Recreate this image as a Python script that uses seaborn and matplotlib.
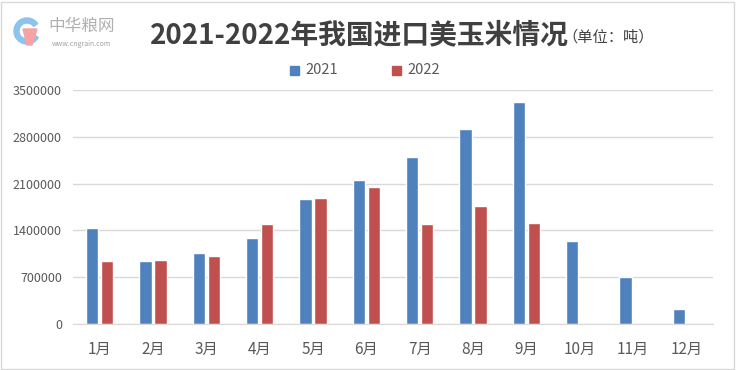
import numpy as np
import pandas as pd
import matplotlib
matplotlib.use("Agg")
import matplotlib.pyplot as plt
import seaborn as sns
from matplotlib.patches import Rectangle, Wedge, Polygon

# Data (tonnes)
months = ["1月", "2月", "3月", "4月", "5月", "6月", "7月", "8月", "9月", "10月", "11月", "12月"]
imports_2021 = [1441000, 947000, 1067000, 1291000, 1875000, 2159000, 2503000, 2922000, 3326000, 1247000, 708000, 229000]
imports_2022 = [947000, 962000, 1022000, 1501000, 1890000, 2054000, 1501000, 1770000, 1516000, np.nan, np.nan, np.nan]
years = ["2021", "2022"]
colors = ["#4F81BD", "#C0504D"]
yticks = [0, 700000, 1400000, 2100000, 2800000, 3500000]

df = pd.DataFrame({
    "month": months * 2,
    "value": imports_2021 + imports_2022,
    "year": [years[0]] * 12 + [years[1]] * 12,
})

sns.set_style("white")
plt.rcParams["font.family"] = ["Noto Sans CJK SC", "DejaVu Sans"]

W, H = 736, 370
fig = plt.figure(figsize=(W / 100, H / 100), dpi=100)
ax = fig.add_axes([73 / W, 1 - 324 / H, 640 / W, 234 / H])

sns.barplot(data=df, x="month", y="value", hue="year", palette=colors,
            width=0.56, gap=0.18, ax=ax, legend=False, saturation=1)

ax.set_ylim(0, 3500000)
ax.set_yticks(yticks)
ax.set_yticklabels([str(v) for v in yticks], fontsize=9, color="#595959")
ax.set_xlim(-0.5, 11.5)
ax.tick_params(axis="x", labelsize=11, labelcolor="#595959", length=0, pad=12)
ax.tick_params(axis="y", length=0, pad=8)
ax.set_xlabel("")
ax.set_ylabel("")
ax.grid(axis="y", color="#D9D9D9", linewidth=1)
ax.set_axisbelow(True)
for s in ["top", "left", "right"]:
    ax.spines[s].set_visible(False)
ax.spines["bottom"].set_color("#D9D9D9")

# Title
fig.text(150 / W, 1 - 35 / H, "2021-2022年我国进口美玉米情况", fontsize=20,
         fontweight="bold", color="#404040", ha="left", va="center")
fig.text(562 / W, 1 - 37 / H, "（单位：吨）", fontsize=11, color="#404040",
         ha="left", va="center")

# Logo: blue ring with a pink stroke (drawn in a small pixel-scaled axes)
logo = fig.add_axes([10 / W, 1 - 48 / H, 34 / W, 34 / H])
logo.set_xlim(0, 34)
logo.set_ylim(0, 34)
logo.axis("off")
logo.add_patch(Wedge((17, 17), 13, 35, 330, width=5, color="#8CC4EE"))
logo.add_patch(Polygon([(13, 19), (27, 19), (22, 3), (17, 3)], closed=True, color="#F5A3A3"))
fig.text(48 / W, 1 - 26 / H, "中华粮网", fontsize=12, color="#B0B0B0",
         ha="left", va="center")
fig.text(52 / W, 1 - 44 / H, "www.cngrain.com", fontsize=5, color="#A0A0A0",
         ha="left", va="center")

# Legend
for i, (yr, c) in enumerate(zip(years, colors)):
    x0 = 290 + i * 102
    fig.patches.append(Rectangle((x0 / W, 1 - 75 / H), 9 / W, 9 / H,
                                 transform=fig.transFigure, color=c))
    fig.text((x0 + 15) / W, 1 - 70 / H, yr, fontsize=10.5, color="#595959",
             ha="left", va="center")

# Outer border
fig.patches.append(Rectangle((1 / W, 1 / H), 733 / W, 367 / H, transform=fig.transFigure,
                             fill=False, edgecolor="#D9D9D9", linewidth=1))

fig.savefig("out.png", dpi=100)
